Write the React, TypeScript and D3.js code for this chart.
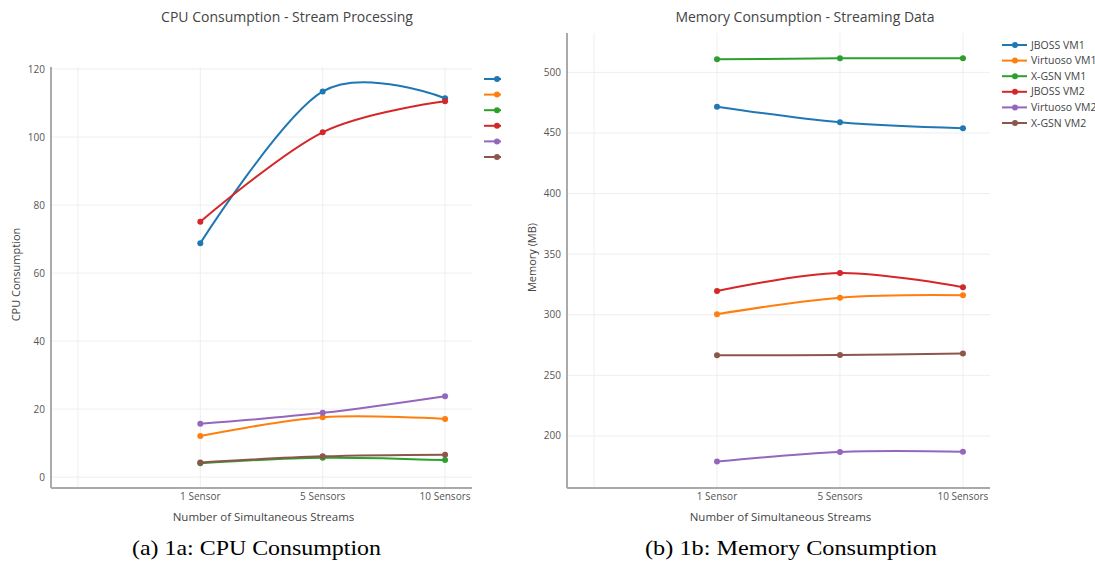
import React from "react";
import * as d3 from "d3";

// categories on the x axis (the first slot of each panel is left blank)
const categories = ["1 Sensor", "5 Sensors", "10 Sensors"];
const seriesNames = ["JBOSS VM1", "Virtuoso VM1", "X-GSN VM1", "JBOSS VM2", "Virtuoso VM2", "X-GSN VM2"];
const seriesColors = ["#1f77b4", "#ff7f0e", "#2ca02c", "#d62728", "#9467bd", "#8c564b"];

// CPU consumption per series
const cpuJbossVm1 = [68.8, 113.4, 111.4];
const cpuVirtuosoVm1 = [12.1, 17.6, 17.1];
const cpuXgsnVm1 = [4.1, 5.7, 5.0];
const cpuJbossVm2 = [75.1, 101.4, 110.5];
const cpuVirtuosoVm2 = [15.7, 18.9, 23.8];
const cpuXgsnVm2 = [4.3, 6.1, 6.6];

// memory consumption (MB) per series
const memJbossVm1 = [471.7, 458.8, 453.9];
const memVirtuosoVm1 = [300.4, 314.1, 316.1];
const memXgsnVm1 = [510.8, 511.6, 511.6];
const memJbossVm2 = [319.6, 334.5, 322.7];
const memVirtuosoVm2 = [178.8, 186.8, 187.0];
const memXgsnVm2 = [266.6, 266.8, 267.9];

const cpuTicks = [0, 20, 40, 60, 80, 100, 120];
const memTicks = [200, 250, 300, 350, 400, 450, 500];

const FONT = "'Open Sans', 'Noto Sans', sans-serif";
const SERIF = "'Liberation Serif', 'DejaVu Serif', serif";

type PanelProps = {
  title: string;
  titleX: number;
  yLabel: string;
  series: number[][];
  ticks: number[];
  yDomain: [number, number];
  left: number;
  right: number;
  top: number;
  bottom: number;
  legendX: number;
  legendY: number;
  showLegendText: boolean;
  clipRight?: number;
  id: string;
};

const Panel = (p: PanelProps) => {
  const x = d3
    .scalePoint<string>()
    .domain(["", ...categories])
    .range([p.left, p.right])
    .padding(0.22);
  const y = d3.scaleLinear().domain(p.yDomain).range([p.bottom, p.top]);
  const line = d3
    .line<number>()
    .x((d, i) => x(categories[i]) as number)
    .y((d) => y(d))
    .curve(d3.curveCardinal.tension(0));
  const cx = (p.left + p.right) / 2;

  return (
    <g>
      {p.clipRight !== undefined && (
        <clipPath id={p.id}>
          <rect x={0} y={0} width={p.clipRight} height={563} />
        </clipPath>
      )}
      <text x={p.titleX} y={22} textAnchor="middle" fontSize={14} fill="#444" fontFamily={FONT}>
        {p.title}
      </text>
      {/* grid */}
      {["", ...categories].map((c) => (
        <line key={"v" + c} x1={x(c)} x2={x(c)} y1={p.top} y2={p.bottom} stroke="#eee" strokeWidth={1} />
      ))}
      {p.ticks.map((t) => (
        <g key={t}>
          <line x1={p.left} x2={p.right} y1={y(t)} y2={y(t)} stroke="#eee" strokeWidth={1} />
          <text x={p.left - 6} y={y(t)} dy="0.35em" textAnchor="end" fontSize={10} fill="#555" fontFamily={FONT}>
            {t}
          </text>
        </g>
      ))}
      {/* axes */}
      <line x1={p.left} x2={p.left} y1={p.top} y2={p.bottom} stroke="#aaa" strokeWidth={2} />
      <line x1={p.left} x2={p.right} y1={p.bottom} y2={p.bottom} stroke="#aaa" strokeWidth={2} />
      {categories.map((c) => (
        <text key={c} x={x(c)} y={p.bottom + 12} textAnchor="middle" fontSize={10} fill="#555" fontFamily={FONT}>
          {c}
        </text>
      ))}
      <text x={cx + 2} y={p.bottom + 33} textAnchor="middle" fontSize={11.5} fill="#444" fontFamily={FONT}>
        Number of Simultaneous Streams
      </text>
      <text
        transform={`translate(${p.left - 31},${(p.top + p.bottom) / 2 - 3}) rotate(-90)`}
        textAnchor="middle"
        fontSize={11}
        fill="#444"
        fontFamily={FONT}
      >
        {p.yLabel}
      </text>
      {/* series */}
      {p.series.map((s, k) => (
        <g key={k}>
          <path d={line(s) || ""} fill="none" stroke={seriesColors[k]} strokeWidth={2} />
          {s.map((v, i) => (
            <circle key={i} cx={x(categories[i])} cy={y(v)} r={3} fill={seriesColors[k]} />
          ))}
        </g>
      ))}
      {/* legend */}
      <g clipPath={p.clipRight !== undefined ? `url(#${p.id})` : undefined}>
        {seriesNames.map((n, k) => {
          const ly = p.legendY + k * 15.6;
          return (
            <g key={n}>
              <line x1={p.legendX} x2={p.legendX + 25} y1={ly} y2={ly} stroke={seriesColors[k]} strokeWidth={2} />
              <circle cx={p.legendX + 13} cy={ly} r={3} fill={seriesColors[k]} />
              {p.showLegendText && (
                <text x={p.legendX + 29} y={ly} dy="0.35em" fontSize={10.5} fill="#444" fontFamily={FONT}>
                  {n}
                </text>
              )}
            </g>
          );
        })}
      </g>
    </g>
  );
};

export default function App() {
  return (
    <svg width={1095} height={563} style={{ position: "absolute", left: 0, top: 0, background: "#fff" }}>
      <Panel
        id="clipA"
        title="CPU Consumption - Stream Processing"
        titleX={287}
        yLabel="CPU Consumption"
        series={[cpuJbossVm1, cpuVirtuosoVm1, cpuXgsnVm1, cpuJbossVm2, cpuVirtuosoVm2, cpuXgsnVm2]}
        ticks={cpuTicks}
        yDomain={[-3.2, 120.6]}
        left={51}
        right={472}
        top={67}
        bottom={488}
        legendX={484}
        legendY={79}
        showLegendText={false}
        clipRight={501}
      />
      <Panel
        id="clipB"
        title="Memory Consumption - Streaming Data"
        titleX={805}
        yLabel="Memory (MB)"
        series={[memJbossVm1, memVirtuosoVm1, memXgsnVm1, memJbossVm2, memVirtuosoVm2, memXgsnVm2]}
        ticks={memTicks}
        yDomain={[157, 532.5]}
        left={567}
        right={990}
        top={33}
        bottom={488}
        legendX={1002}
        legendY={45}
        showLegendText={true}
      />
      <text
        x={132}
        y={555}
        fontSize={22}
        fill="#000"
        fontFamily={SERIF}
        textLength={249}
        lengthAdjust="spacingAndGlyphs"
      >
        (a) 1a: CPU Consumption
      </text>
      <text
        x={645}
        y={555}
        fontSize={22}
        fill="#000"
        fontFamily={SERIF}
        textLength={292}
        lengthAdjust="spacingAndGlyphs"
      >
        (b) 1b: Memory Consumption
      </text>
    </svg>
  );
}
